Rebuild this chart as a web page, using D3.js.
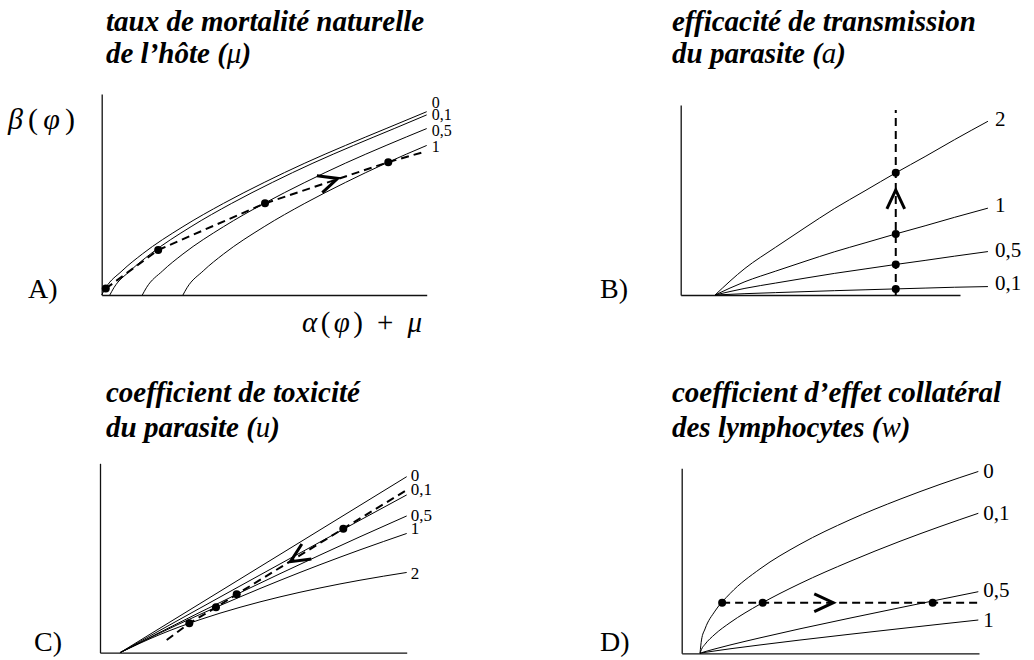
<!DOCTYPE html>
<html><head><meta charset="utf-8">
<script src="https://cdn.jsdelivr.net/npm/d3@7"></script>
<style>
html,body{margin:0;padding:0;background:#fff;}
svg{display:block;}
text{font-family:"Liberation Serif","Times New Roman",serif;fill:#000;}
</style></head><body>
<svg id="chart" width="1034" height="660"></svg>
<script>
// ================= DATA =================
const titleLines = [
  ["taux de mortalité naturelle", "de l’hôte"],
  ["efficacité de transmission", "du parasite"],
  ["coefficient de toxicité", "du parasite"],
  ["coefficient d’effet collatéral", "des lymphocytes"]
];
const titleVars = ["μ", "a", "u", "w"];
const panelLetters = ["A)", "B)", "C)", "D)"];

// Panel A : natural mortality of host (mu)
const labelsA = ["0", "0,1", "0,5", "1"];
const curvesA = [
  [[0,0],[0.05,0.09],[0.25,0.30],[0.5,0.51],[1,0.85],[1.5,1.14],[2,1.40],[2.5,1.64],[3,1.86],[3.5,2.07],[4,2.28]],
  [[0.1,0],[0.15,0.09],[0.35,0.30],[0.6,0.51],[1.1,0.85],[1.6,1.14],[2.1,1.40],[2.6,1.64],[3.1,1.86],[3.6,2.07],[4,2.24]],
  [[0.5,0],[0.55,0.09],[0.75,0.30],[1,0.51],[1.5,0.85],[2,1.14],[2.5,1.40],[3,1.64],[3.5,1.86],[4,2.07]],
  [[1,0],[1.05,0.09],[1.25,0.30],[1.5,0.51],[2,0.85],[2.5,1.14],[3,1.40],[3.5,1.64],[4,1.86]]
];
const pathA = [[0.05,0.08],[0.695,0.56],[2.01,1.14],[3.527,1.652],[3.967,1.78]];
const dotsA = [[0.05,0.08],[0.695,0.56],[2.01,1.14],[3.527,1.652]];
const arrowA = [[2.905,1.45],[3.527,1.652]];

// Panel B : transmission efficiency (a)
const labelsB = ["2", "1", "0,5", "0,1"];
const xsB = [1.23, 2.3, 3.4, 4.45, 5.5, 6.6, 7.7, 8.75, 9.8, 11.0];
const ysB = [
  [0, 0.98, 1.76, 2.48, 3.18, 3.84, 4.5, 5.1, 5.72, 6.4],
  [0, 0.49, 0.88, 1.24, 1.59, 1.92, 2.25, 2.55, 2.86, 3.2],
  [0, 0.245, 0.44, 0.62, 0.795, 0.96, 1.125, 1.275, 1.43, 1.6],
  [0, 0.049, 0.088, 0.124, 0.159, 0.192, 0.225, 0.255, 0.286, 0.31]
];
const pathB = [[7.7,0],[7.7,6.82]];
const dotsB = [[7.7,4.5],[7.7,2.25],[7.7,1.125],[7.7,0.225]];
const arrowB = [[7.7,3.87],[7.7,6.82]];

// Panel C : parasite toxicity (u)
const labelsC = ["0", "0,1", "0,5", "1", "2"];
const xsC = [0.652, 1.956, 3.26, 4.565, 5.869, 7.173, 8.477, 10.0];
const ysC = [
  [0, 0.778, 1.556, 2.334, 3.112, 3.890, 4.668, 5.576],
  [0, 0.708, 1.412, 2.113, 2.811, 3.506, 4.197, 4.998],
  [0, 0.647, 1.280, 1.899, 2.503, 3.094, 3.673, 4.332],
  [0, 0.624, 1.212, 1.767, 2.291, 2.788, 3.258, 3.777],
  [0, 0.577, 1.048, 1.438, 1.768, 2.051, 2.296, 2.542]
];
const pathC = [[2.175,0.402],[2.912,0.931],[3.782,1.438],[4.457,1.850],[7.933,3.928],[10.0,5.154]];
const dotsC = [[2.912,0.931],[3.782,1.438],[4.457,1.850],[7.933,3.928]];
const arrowC = [[6.211,2.883],[2.175,0.402]];

// Panel D : lymphocyte collateral effect (w)
const labelsD = ["0", "0,1", "0,5", "1"];
const xsD = [0.616, 0.666, 0.784, 1.120, 1.625, 2.634, 3.979, 5.661, 7.343, 8.688, 9.977];
const ysD = [
  [0, 0.433, 0.790, 1.369, 1.936, 2.738, 3.536, 4.330, 4.998, 5.478, 5.897],
  [0, 0.128, 0.292, 0.620, 0.993, 1.593, 2.261, 2.981, 3.633, 4.110, 4.541],
  [0, 0.018, 0.054, 0.143, 0.269, 0.501, 0.795, 1.142, 1.479, 1.745, 1.998],
  [0, 0.010, 0.029, 0.077, 0.146, 0.271, 0.430, 0.618, 0.800, 0.944, 1.080]
];
const pathD = [[1.36,1.641],[10.0,1.641]];
const dotsD = [[1.36,1.641],[2.724,1.641],[8.443,1.641]];
const arrowD = [[5.099,1.641],[10.0,1.641]];

// ================= LAYOUT =================
const svg = d3.select("#chart");

const panels = [
  {curves: curvesA, labels: labelsA, path: pathA, dots: dotsA, arrow: arrowA,
   xDomain:[0,4], yDomain:[0,2.5], xRange:[101.7,426.7], yRange:[295,94],
   labelDx:5, labelDy:[-9,0,2.3,1], labelSize:16,
   titleX:106, titleY:[31,63], letterX:28, letterY:298},
  {curves: ysB.map(ys => ys.map((y,i) => [xsB[i], y])), labels: labelsB, path: pathB, dots: dotsB, arrow: arrowB,
   xDomain:[0,10], yDomain:[0,7], xRange:[680.7,960], yRange:[295,105],
   labelDx:7, labelDy:[-2,-3,-2,-3.5], labelSize:21,
   titleX:672, titleY:[31,63], letterX:600, letterY:298},
  {curves: ysC.map(ys => ys.map((y,i) => [xsC[i], y])), labels: labelsC, path: pathC, dots: dotsC, arrow: arrowC,
   xDomain:[0,10], yDomain:[0,6], xRange:[100,406.7], yRange:[652.7,463.3],
   labelDx:4, labelDy:[-1.5,-5,-0.5,-4.5,0.7], labelSize:17,
   titleX:106, titleY:[402,437], letterX:34, letterY:651},
  {curves: ysD.map(ys => ys.map((y,i) => [xsD[i], y])), labels: labelsD, path: pathD, dots: dotsD, arrow: arrowD,
   xDomain:[0,10], yDomain:[0,6], xRange:[681.7,979], yRange:[653.3,468.3],
   labelDx:5, labelDy:[0,0,-2,0], labelSize:21,
   titleX:672, titleY:[402,437], letterX:600, letterY:651}
];

panels.forEach((p, pi) => {
  const x = d3.scaleLinear().domain(p.xDomain).range(p.xRange);
  const y = d3.scaleLinear().domain(p.yDomain).range(p.yRange);
  const g = svg.append("g");

  g.append("g").attr("transform", `translate(0,${p.yRange[0]})`)
    .call(d3.axisBottom(x).tickValues([]).tickSizeOuter(0))
    .select(".domain").attr("stroke", "#111").attr("stroke-width", 1.3);
  g.append("g").attr("transform", `translate(${p.xRange[0]},0)`)
    .call(d3.axisLeft(y).tickValues([]).tickSizeOuter(0))
    .select(".domain").attr("stroke", "#111").attr("stroke-width", 1.3);

  const line = d3.line().x(d => x(d[0])).y(d => y(d[1])).curve(d3.curveMonotoneX);
  g.selectAll("path.curve").data(p.curves).join("path")
    .attr("class", "curve").attr("d", line)
    .attr("fill", "none").attr("stroke", "#000").attr("stroke-width", 1);

  g.selectAll("text.clab").data(p.curves).join("text")
    .attr("class", "clab")
    .attr("x", d => x(d[d.length-1][0]) + p.labelDx)
    .attr("y", (d,i) => y(d[d.length-1][1]) + p.labelDy[i])
    .attr("dominant-baseline", "central")
    .attr("font-size", p.labelSize)
    .text((d,i) => p.labels[i]);

  const straight = d3.line().x(d => x(d[0])).y(d => y(d[1]));
  g.append("path").attr("d", straight(p.path))
    .attr("fill", "none").attr("stroke", "#000").attr("stroke-width", 2)
    .attr("stroke-dasharray", "8,5");

  g.selectAll("circle").data(p.dots).join("circle")
    .attr("cx", d => x(d[0])).attr("cy", d => y(d[1])).attr("r", 4).attr("fill", "#000");

  const ax = x(p.arrow[0][0]), ay = y(p.arrow[0][1]);
  const tx = x(p.arrow[1][0]), ty = y(p.arrow[1][1]);
  const th = Math.atan2(ty - ay, tx - ax);
  const L = 21, half = 25 * Math.PI / 180;
  const a1 = [ax + L*Math.cos(th + Math.PI - half), ay + L*Math.sin(th + Math.PI - half)];
  const a2 = [ax + L*Math.cos(th + Math.PI + half), ay + L*Math.sin(th + Math.PI + half)];
  g.append("path").attr("d", `M${a1[0]},${a1[1]}L${ax},${ay}L${a2[0]},${a2[1]}`)
    .attr("fill", "none").attr("stroke", "#000").attr("stroke-width", 3)
    .attr("stroke-linejoin", "miter");

  g.append("text").attr("x", p.titleX).attr("y", p.titleY[0])
    .attr("font-size", 29).attr("font-weight", "bold").attr("font-style", "italic")
    .text(titleLines[pi][0]);
  const t2 = g.append("text").attr("x", p.titleX).attr("y", p.titleY[1])
    .attr("font-size", 29).attr("font-weight", "bold").attr("font-style", "italic");
  t2.append("tspan").text(titleLines[pi][1] + " (");
  t2.append("tspan").attr("font-weight", "normal").text(titleVars[pi]);
  t2.append("tspan").text(")");

  g.append("text").attr("x", p.letterX).attr("y", p.letterY)
    .attr("font-size", 28).text(panelLetters[pi]);
});

// axis labels of panel A
const yl = svg.append("text").attr("x", 8).attr("y", 129).attr("font-size", 30)
  .attr("textLength", 67).attr("lengthAdjust", "spacing");
yl.append("tspan").attr("font-style", "italic").text("β");
yl.append("tspan").text("(");
yl.append("tspan").attr("font-style", "italic").text("φ");
yl.append("tspan").text(")");

const xl = svg.append("text").attr("x", 302).attr("y", 332).attr("font-size", 29)
  .attr("textLength", 120).attr("lengthAdjust", "spacing");
xl.append("tspan").attr("font-style", "italic").text("α");
xl.append("tspan").text("(");
xl.append("tspan").attr("font-style", "italic").text("φ");
xl.append("tspan").text(") + ");
xl.append("tspan").attr("font-style", "italic").text("μ");
</script>
</body></html>
